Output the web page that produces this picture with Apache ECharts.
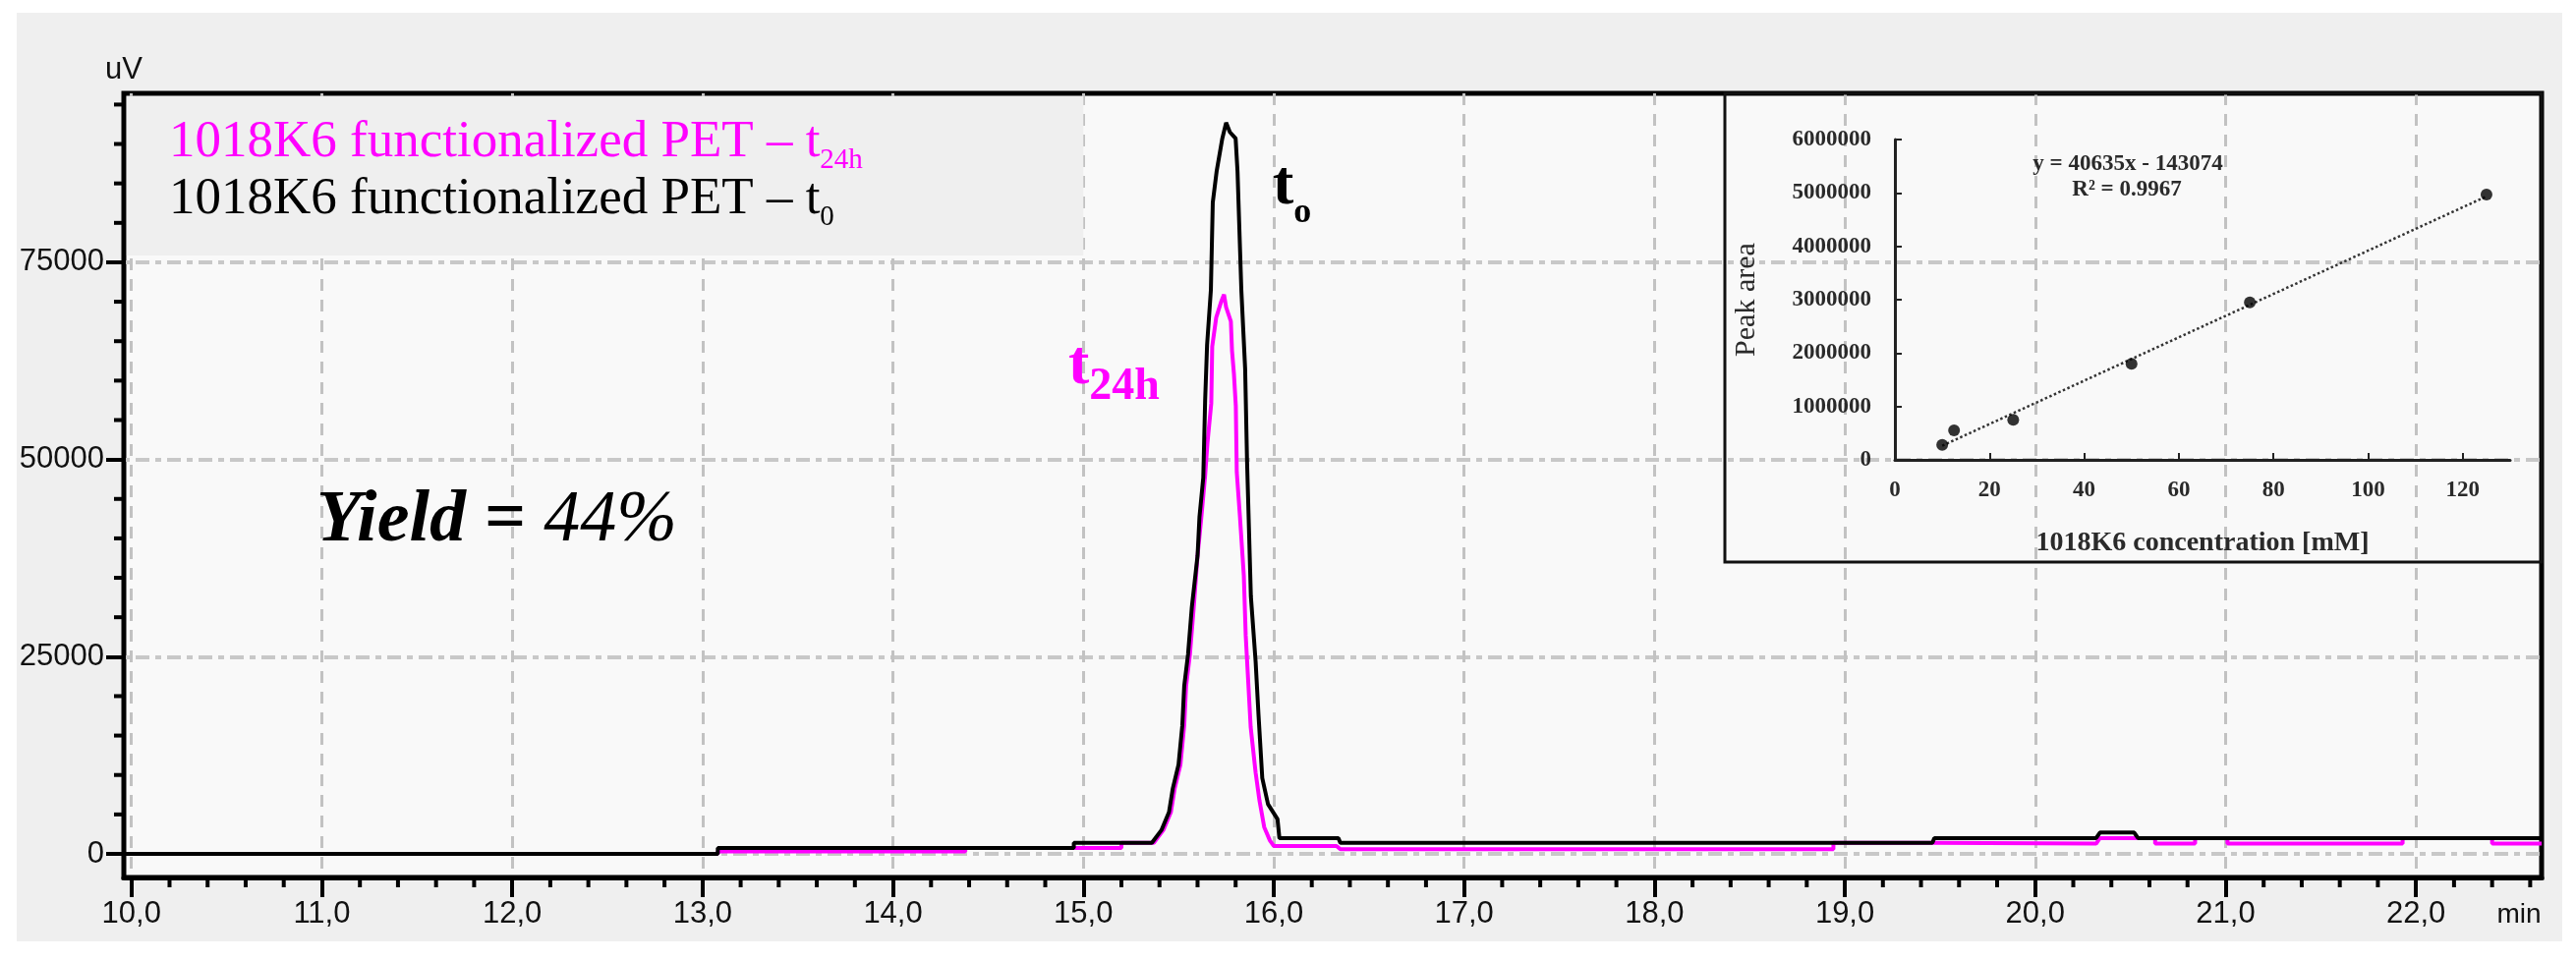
<!DOCTYPE html>
<html>
<head>
<meta charset="utf-8">
<title>1018K6 functionalized PET chromatogram</title>
<script src="https://cdn.jsdelivr.net/npm/echarts@6.0.0/dist/echarts.min.js"></script>
<style>
  html, body { margin: 0; padding: 0; background: #ffffff; }
  #frame { position: absolute; left: 17px; top: 13px; width: 2590px; height: 945px; background: #efefef; }
  #chart-container { position: absolute; left: 0; top: 0; width: 2621px; height: 977px; }
</style>
</head>
<body>
<div id="frame"></div>
<div id="chart-container"></div>
<script>
/*
* Data (retention time in min, signal in uV)
*/
// t0 trace (black)
const timeT0 = [
    9.96, 13.08, 13.08, 14.95, 14.95, 15.36,
    15.41, 15.45, 15.47, 15.50, 15.52, 15.53, 15.55, 15.57, 15.60, 15.61, 15.63, 15.64, 15.65, 15.67, 15.68, 15.70, 15.73, 15.75,
    15.77, 15.80, 15.81, 15.83, 15.85, 15.86, 15.88, 15.905, 15.92, 15.94, 15.97, 16.02, 16.03,
    16.34, 16.35, 19.46, 19.47, 20.32, 20.34, 20.52, 20.54, 22.66
];
const signalT0 = [
    0, 0, 750, 750, 1400, 1400,
    3000, 5300, 8300, 11300, 16300, 21300, 25300, 31300, 37800, 42700, 47700, 57600, 64500, 71500, 82600, 86500, 90700, 92700,
    91500, 90700, 86500, 71500, 61500, 49800, 32700, 24400, 17700, 9600, 6300, 4400, 2000,
    2000, 1400, 1400, 2000, 2000, 2700, 2700, 2000, 2000
];

// t24h trace (magenta)
const timeT24 = [
    9.96, 13.08, 13.08, 14.38, 14.38, 14.95, 15.20, 15.20, 15.37,
    15.42, 15.46, 15.48, 15.51, 15.53, 15.54, 15.56, 15.58, 15.60, 15.62, 15.64, 15.652, 15.672, 15.677, 15.698, 15.724, 15.739,
    15.75, 15.775, 15.781, 15.791, 15.801, 15.806, 15.822, 15.843, 15.853, 15.879, 15.905, 15.925, 15.95, 15.98, 16.0,
    16.33, 16.35, 18.94, 18.94, 19.46, 19.47, 20.32, 20.34, 20.63, 20.63, 20.84, 20.84, 21.01, 21.01, 21.93, 21.93, 22.40, 22.40, 22.66
];
const signalT24 = [
    0, 0, 300, 300, 750, 750, 750, 1400, 1400,
    3000, 5300, 8300, 11300, 16300, 21300, 25300, 31300, 37800, 42700, 48000, 52100, 57100, 64300, 68000, 70000, 70900,
    69300, 67500, 63800, 60900, 56800, 48400, 43000, 35300, 27700, 16100, 10300, 6800, 3400, 1700, 1000,
    1000, 600, 600, 1400, 1400, 1300, 1300, 2000, 2000, 1300, 1300, 2000, 2000, 1300, 1300, 2000, 2000, 1300, 1300
];

// axis range and ticks of the chromatogram
const timeRange = [9.96, 22.66];
const signalRange = [-2990, 96420];
const timeTicks = [10, 11, 12, 13, 14, 15, 16, 17, 18, 19, 20, 21, 22];
const signalTicks = [0, 25000, 50000, 75000];

// calibration inset
const concentration = [10, 12.5, 25, 50, 75, 125];
const peakArea = [280000, 550000, 750000, 1800000, 2950000, 4970000];
const trendConc = [10, 125];
const trendArea = [265000, 4935000];
const concTicks = [0, 20, 40, 60, 80, 100, 120];

// minor ticks: every 0.2 min / every 5000 uV
const timeMinorTicks = [];
for (let i = 50; i <= 113; i++) {
    if (i % 5 !== 0) timeMinorTicks.push(i / 5);
}
const signalMinorTicks = [];
for (let v = 5000; v <= 95000; v += 5000) {
    if (v % 25000 !== 0) signalMinorTicks.push(v);
}

const zip = (xs, ys) => xs.map((x, i) => [x, ys[i]]);

const SANS = "'Liberation Sans', Arial, sans-serif";
const SERIF = "'Liberation Serif', 'Times New Roman', serif";

/*
* Chart
*/
const container = echarts.init(document.getElementById('chart-container'));

const legendRich = (color) => ({
    m: { fontFamily: SERIF, fontSize: 53, fill: color, lineHeight: 66 },
    s: { fontFamily: SERIF, fontSize: 29, fill: color, lineHeight: 29, verticalAlign: 'bottom' }
});

// short tick marks drawn from axis values (the library places them through the axis scales)
const minorTickSeries = (values, horizontal) => ({
    type: 'custom', xAxisIndex: 0, yAxisIndex: 0, z: 8, silent: true, clip: false,
    data: values.map((v) => horizontal ? [v, signalRange[0]] : [timeRange[0], v]),
    renderItem: (params, api) => {
        const p = api.coord([api.value(0), api.value(1)]);
        return {
            type: 'line',
            shape: horizontal
                ? { x1: p[0], y1: p[1], x2: p[0], y2: p[1] + 10 }
                : { x1: p[0] - 10, y1: p[1], x2: p[0], y2: p[1] },
            style: { stroke: '#000', lineWidth: 4 }
        };
    }
});

const cfg = {
    animation: false,
    grid: [{
        // chromatogram
        left: 126, top: 95, right: 35, bottom: 84,
        show: true, backgroundColor: '#f9f9f9', borderColor: '#000', borderWidth: 5
    }, {
        // calibration inset
        left: 1928, top: 142, width: 626, height: 326
    }],
    xAxis: [{
        type: 'value', gridIndex: 0, position: 'bottom', min: timeRange[0], max: timeRange[1],
        axisLine: { show: true, onZero: false, lineStyle: { color: '#000', width: 5 } },
        axisTick: { show: true, customValues: timeTicks, length: 20, lineStyle: { color: '#000', width: 4 } },
        axisLabel: {
            customValues: timeTicks, margin: 22, fontSize: 31, fontFamily: SANS, color: '#111',
            formatter: (v) => v.toFixed(1).replace('.', ',')
        },
        splitLine: { show: true, lineStyle: { color: '#c2c2c2', width: 3, type: [12, 9] } },
        name: 'min', nameLocation: 'end', nameGap: -23,
        nameTextStyle: { fontSize: 28, fontFamily: SANS, color: '#111', align: 'center', verticalAlign: 'top', padding: [24, 0, 0, 0] }
    }, {
        type: 'value', gridIndex: 1, min: 0, max: 130,
        axisLine: { show: true, onZero: false, lineStyle: { color: '#222', width: 3 } },
        axisTick: { show: true, inside: true, customValues: concTicks.slice(1), length: 7, lineStyle: { color: '#222', width: 2 } },
        axisLabel: { customValues: concTicks, margin: 20, fontSize: 23, fontFamily: SERIF, fontWeight: 'bold', color: '#2a2a2a' },
        splitLine: { show: false },
        name: '1018K6 concentration [mM]', nameLocation: 'middle', nameGap: 71,
        nameTextStyle: { fontSize: 28, fontFamily: SERIF, fontWeight: 'bold', color: '#2a2a2a' }
    }],
    yAxis: [{
        type: 'value', gridIndex: 0, position: 'left', min: signalRange[0], max: signalRange[1],
        axisLine: { show: true, onZero: false, lineStyle: { color: '#000', width: 4 } },
        axisTick: { show: true, customValues: signalTicks, length: 18, lineStyle: { color: '#000', width: 4 } },
        axisLabel: { customValues: signalTicks, margin: 20, fontSize: 31, fontFamily: SANS, color: '#111', formatter: (v) => String(v) },
        splitLine: { show: true, lineStyle: { color: '#c8c8c8', width: 4, type: [6, 6, 14, 6] } },
        name: 'uV', nameLocation: 'end', nameGap: 8,
        nameTextStyle: { fontSize: 31, fontFamily: SANS, color: '#111', align: 'center' }
    }, {
        type: 'value', gridIndex: 1, min: 0, max: 6000000, interval: 1000000,
        axisLine: { show: true, onZero: false, lineStyle: { color: '#222', width: 3 } },
        axisTick: { show: true, inside: true, length: 7, lineStyle: { color: '#222', width: 2 } },
        axisLabel: { margin: 24, fontSize: 23, fontFamily: SERIF, fontWeight: 'bold', color: '#2a2a2a', formatter: (v) => String(v) },
        splitLine: { show: false },
        name: 'Peak area', nameLocation: 'middle', nameGap: 136,
        nameTextStyle: { fontSize: 30, fontFamily: SERIF, color: '#2a2a2a' }
    }],
    series: [{
        name: '1018K6 functionalized PET - t24h',
        type: 'line', xAxisIndex: 0, yAxisIndex: 0, z: 3,
        symbol: 'none', silent: true,
        lineStyle: { color: '#ff00ff', width: 4 },
        data: zip(timeT24, signalT24)
    }, {
        name: '1018K6 functionalized PET - t0',
        type: 'line', xAxisIndex: 0, yAxisIndex: 0, z: 4,
        symbol: 'none', silent: true,
        lineStyle: { color: '#000000', width: 4 },
        data: zip(timeT0, signalT0),
        // grey box behind the legend text
        markArea: {
            silent: true,
            itemStyle: { color: '#efefef', opacity: 1 },
            data: [[{ xAxis: 9.975, yAxis: 75880 }, { xAxis: 15.0, yAxis: 96050 }]]
        }
    },
    minorTickSeries(timeMinorTicks, true),
    minorTickSeries(signalMinorTicks, false),
    {
        name: 'trend',
        type: 'line', xAxisIndex: 1, yAxisIndex: 1, z: 5,
        symbol: 'none', silent: true,
        lineStyle: { color: '#333', width: 2.5, type: 'dotted' },
        data: zip(trendConc, trendArea)
    }, {
        name: 'calibration',
        type: 'scatter', xAxisIndex: 1, yAxisIndex: 1, z: 6,
        symbolSize: 12, silent: true,
        itemStyle: { color: '#000' },
        data: zip(concentration, peakArea)
    }],
    graphic: [{
        // inset frame
        type: 'rect', z: 20, silent: true,
        shape: { x: 1755, y: 95, width: 831, height: 477 },
        style: { fill: 'none', stroke: '#111', lineWidth: 3 }
    }, {
        type: 'text', x: 172, y: 112, z: 30,
        style: {
            text: '{m|1018K6 functionalized PET – t}{s|24h}',
            rich: legendRich('#ff00ff'), verticalAlign: 'top', textVerticalAlign: 'top'
        }
    }, {
        type: 'text', x: 172, y: 170, z: 30,
        style: {
            text: '{m|1018K6 functionalized PET – t}{s|0}',
            rich: legendRich('#000000'), verticalAlign: 'top', textVerticalAlign: 'top'
        }
    }, {
        type: 'text', x: 1295, y: 145, z: 30,
        style: {
            text: '{m|t}{s|o}', verticalAlign: 'top', textVerticalAlign: 'top',
            rich: {
                m: { fontFamily: SERIF, fontSize: 64, fontWeight: 'bold', fill: '#000', lineHeight: 90 },
                s: { fontFamily: SERIF, fontSize: 36, fontWeight: 'bold', fill: '#000', lineHeight: 36, verticalAlign: 'bottom' }
            }
        }
    }, {
        type: 'text', x: 1087, y: 329, z: 30,
        style: {
            text: '{m|t}{s|24h}', verticalAlign: 'top', textVerticalAlign: 'top',
            rich: {
                m: { fontFamily: SERIF, fontSize: 64, fontWeight: 'bold', fill: '#ff00ff', lineHeight: 88 },
                s: { fontFamily: SERIF, fontSize: 46, fontWeight: 'bold', fill: '#ff00ff', lineHeight: 46, verticalAlign: 'bottom' }
            }
        }
    }, {
        type: 'text', x: 322, y: 494, z: 30,
        style: {
            text: '{b|Yield = }{n|44%}', verticalAlign: 'top', textVerticalAlign: 'top',
            rich: {
                b: { fontFamily: SERIF, fontSize: 74, fontStyle: 'italic', fontWeight: 'bold', fill: '#000', lineHeight: 74 },
                n: { fontFamily: SERIF, fontSize: 74, fontStyle: 'italic', fill: '#000', lineHeight: 74 }
            }
        }
    }, {
        type: 'text', x: 2165, y: 167, z: 30,
        style: {
            text: 'y = 40635x - 143074', align: 'center', verticalAlign: 'middle',
            textAlign: 'center', textVerticalAlign: 'middle',
            fontFamily: SERIF, fontSize: 23, fontWeight: 'bold', fill: '#2a2a2a'
        }
    }, {
        type: 'text', x: 2164, y: 193, z: 30,
        style: {
            text: 'R² = 0.9967', align: 'center', verticalAlign: 'middle',
            textAlign: 'center', textVerticalAlign: 'middle',
            fontFamily: SERIF, fontSize: 23, fontWeight: 'bold', fill: '#2a2a2a'
        }
    }]
};

container.setOption(cfg);
</script>
</body>
</html>
